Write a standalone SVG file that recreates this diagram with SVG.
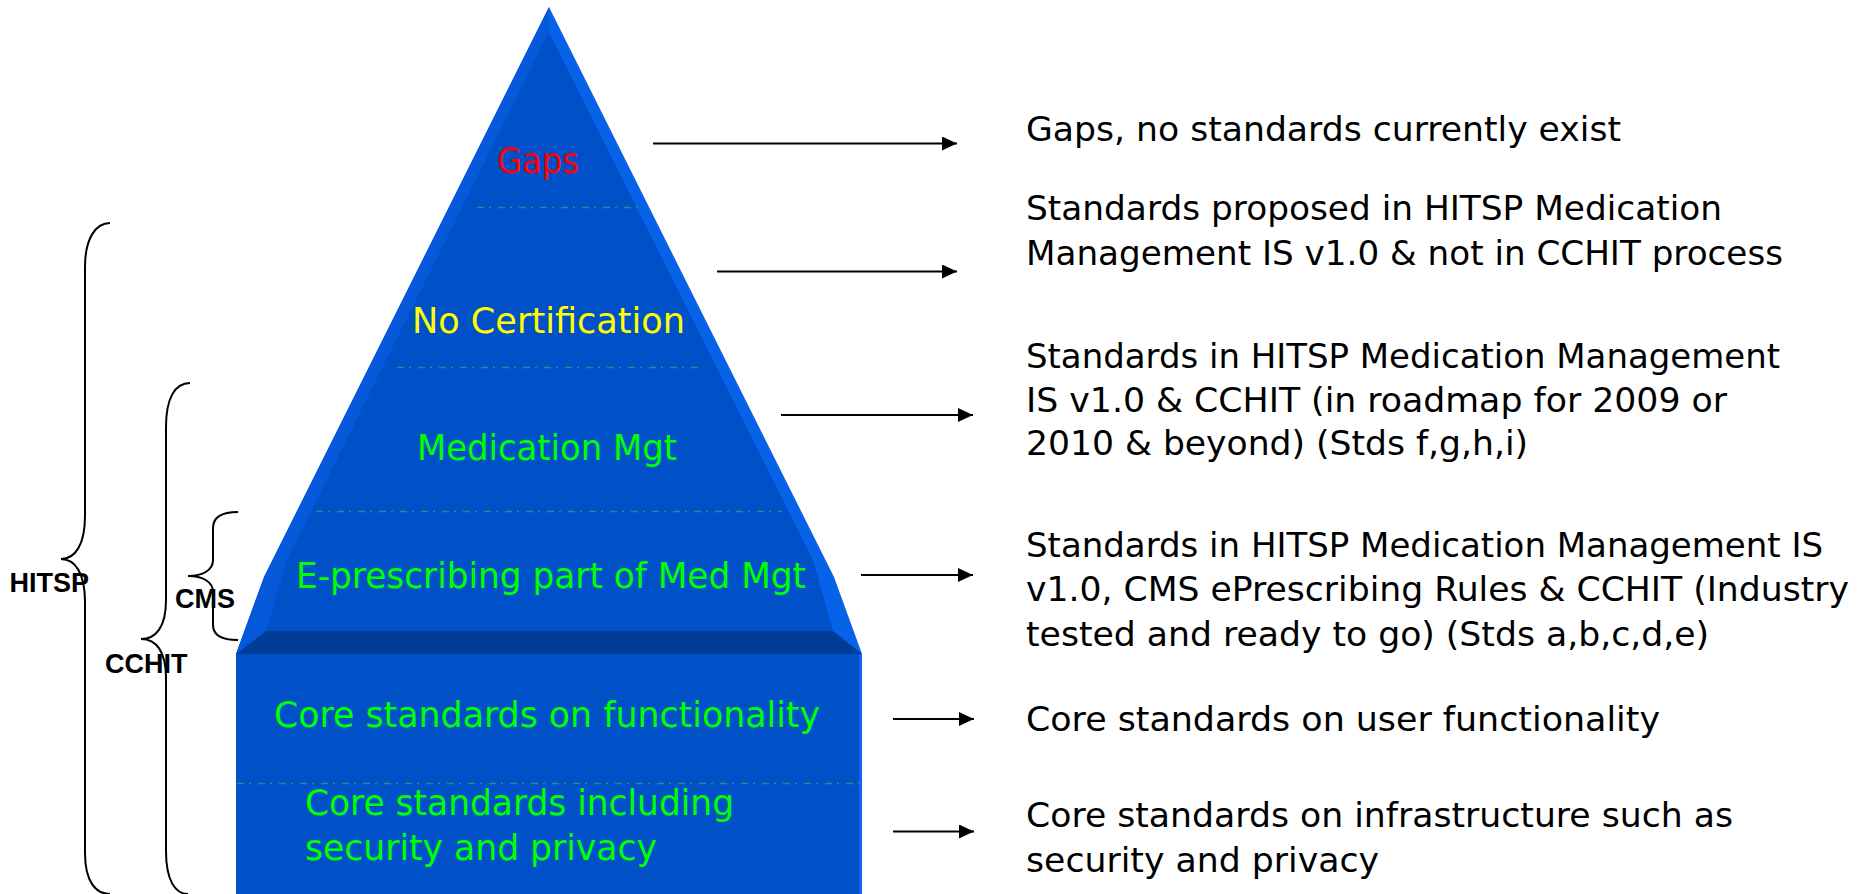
<svg xmlns="http://www.w3.org/2000/svg" width="1867" height="894" viewBox="0 0 1867 894">
  <defs>
    <style>
      .tier { font-family: "DejaVu Sans", "Liberation Sans", sans-serif; font-size: 36px; }
      .green { fill: #00ff00; }
      .desc { font-family: "DejaVu Sans", "Liberation Sans", sans-serif; font-size: 34.5px; fill: #000; }
      .brace { fill: none; stroke: #000; stroke-width: 2; }
      .blabel { font-family: "Liberation Sans", Arial, sans-serif; font-weight: bold; font-size: 27px; fill: #000; }
      .divider { stroke: #209080; stroke-width: 1.5; stroke-dasharray: 7 5 2 7; fill: none; }
      .arrow { stroke: #000; stroke-width: 2; fill: none; marker-end: url(#head); }
    </style>
    <marker id="head" markerUnits="userSpaceOnUse" markerWidth="16" markerHeight="14" refX="15" refY="7" orient="auto">
      <path d="M0,0 L15,7 L0,14 z" fill="#000"/>
    </marker>
  </defs>

  <rect width="1867" height="894" fill="#fff"/>

  <!-- pyramid body -->
  <g id="pyramid">
    <polygon points="549,7 834,577 862,654 236,654 264,577" fill="#0662e8"/>
    <polygon points="549,7 549,32 287,560 266,631 236,654 264,577" fill="#0558d8"/>
    <polygon points="549,32 813,560 833,631 266,631 287,560" fill="#0050c8"/>
    <polygon points="266,631 833,631 862,654 236,654" fill="#003d98"/>
    <rect x="236" y="654" width="626" height="240" fill="#0050c8"/>
    <rect x="859" y="654" width="3" height="240" fill="#0a64f0"/>
  </g>

  <!-- tier separators -->
  <g id="dividers">
    <line class="divider" x1="477" y1="207.5" x2="638" y2="207.5"/>
    <line class="divider" x1="397" y1="367.5" x2="699" y2="367.5"/>
    <line class="divider" x1="316" y1="511.5" x2="782" y2="511.5"/>
    <line class="divider" x1="237" y1="783.5" x2="860" y2="783.5"/>
  </g>

  <g id="tier-gaps">
    <text class="tier" x="497" y="173" fill="#ff0000" textLength="82" lengthAdjust="spacingAndGlyphs">Gaps</text>
  </g>
  <g id="tier-no-certification">
    <text class="tier" x="412" y="333" fill="#ffff00" textLength="273" lengthAdjust="spacingAndGlyphs">No Certification</text>
  </g>
  <g id="tier-medication-mgt">
    <text class="tier green" x="417" y="460" textLength="260" lengthAdjust="spacingAndGlyphs">Medication Mgt</text>
  </g>
  <g id="tier-eprescribing">
    <text class="tier green" x="296" y="588" textLength="510" lengthAdjust="spacingAndGlyphs">E-prescribing part of Med Mgt</text>
  </g>
  <g id="tier-core-functionality">
    <text class="tier green" x="274" y="727" textLength="546" lengthAdjust="spacingAndGlyphs">Core standards on functionality</text>
  </g>
  <g id="tier-core-security">
    <text class="tier green" x="305" y="815" textLength="429" lengthAdjust="spacingAndGlyphs">Core standards including</text>
    <text class="tier green" x="305" y="860" textLength="352" lengthAdjust="spacingAndGlyphs">security and privacy</text>
  </g>

  <!-- scope braces on the left -->
  <g id="brace-hitsp">
    <path class="brace" d="M110,223 C96,223 85,238 85,267 L85,516 C85,545 75,559 61,559 C75,559 85,573 85,602 L85,853 C85,882 96,894 110,894"/>
    <text class="blabel" x="9.5" y="592">HITSP</text>
  </g>
  <g id="brace-cchit">
    <path class="brace" d="M190,383 C175,383 166,398 166,427 L166,600 C166,627 156,639 141,639 C156,639 166,651 166,678 L166,851 C166,880 175,894 188,894"/>
    <text class="blabel" x="105" y="673">CCHIT</text>
  </g>
  <g id="brace-cms">
    <path class="brace" d="M238,512 C222,512 213,517 213,528 L213,560 C213,570 203,576 188,576 C203,576 213,582 213,592 L213,625 C213,635 222,640 238,640"/>
    <text class="blabel" x="175" y="608">CMS</text>
  </g>

  <!-- arrows from tiers to descriptions -->
  <g id="connectors">
    <line class="arrow" x1="653" y1="143.5" x2="957" y2="143.5"/>
    <line class="arrow" x1="717" y1="271.5" x2="957" y2="271.5"/>
    <line class="arrow" x1="781" y1="415" x2="973" y2="415"/>
    <line class="arrow" x1="861" y1="575" x2="973" y2="575"/>
    <line class="arrow" x1="893" y1="719" x2="974" y2="719"/>
    <line class="arrow" x1="893" y1="831.5" x2="974" y2="831.5"/>
  </g>

  <!-- descriptions -->
  <g id="desc-gaps">
    <text class="desc" x="1026" y="141" textLength="595" lengthAdjust="spacingAndGlyphs">Gaps, no standards currently exist</text>
  </g>
  <g id="desc-no-certification">
    <text class="desc" x="1026" y="220" textLength="696" lengthAdjust="spacingAndGlyphs">Standards proposed in HITSP Medication</text>
    <text class="desc" x="1026" y="265" textLength="757" lengthAdjust="spacingAndGlyphs">Management IS v1.0 &amp; not in CCHIT process</text>
  </g>
  <g id="desc-medication-mgt">
    <text class="desc" x="1026" y="368" textLength="754" lengthAdjust="spacingAndGlyphs">Standards in HITSP Medication Management</text>
    <text class="desc" x="1026" y="412" textLength="701" lengthAdjust="spacingAndGlyphs">IS v1.0 &amp; CCHIT (in roadmap for 2009 or</text>
    <text class="desc" x="1026" y="455" textLength="502" lengthAdjust="spacingAndGlyphs">2010 &amp; beyond) (Stds f,g,h,i)</text>
  </g>
  <g id="desc-eprescribing">
    <text class="desc" x="1026" y="557" textLength="797" lengthAdjust="spacingAndGlyphs">Standards in HITSP Medication Management IS</text>
    <text class="desc" x="1026" y="601" textLength="823" lengthAdjust="spacingAndGlyphs">v1.0, CMS ePrescribing Rules &amp; CCHIT (Industry</text>
    <text class="desc" x="1026" y="646" textLength="683" lengthAdjust="spacingAndGlyphs">tested and ready to go) (Stds a,b,c,d,e)</text>
  </g>
  <g id="desc-core-functionality">
    <text class="desc" x="1026" y="731" textLength="634" lengthAdjust="spacingAndGlyphs">Core standards on user functionality</text>
  </g>
  <g id="desc-core-security">
    <text class="desc" x="1026" y="827" textLength="707" lengthAdjust="spacingAndGlyphs">Core standards on infrastructure such as</text>
    <text class="desc" x="1026" y="872" textLength="353" lengthAdjust="spacingAndGlyphs">security and privacy</text>
  </g>
</svg>
